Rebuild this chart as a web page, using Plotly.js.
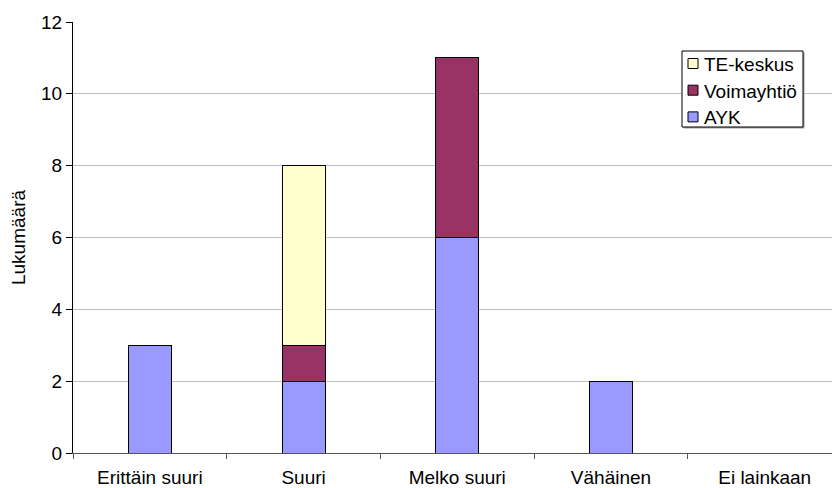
<!DOCTYPE html>
<html>
<head>
<meta charset="utf-8">
<script src="https://cdn.plot.ly/plotly-3.0.1.min.js"></script>
<style>html,body{margin:0;padding:0;background:#fff;overflow:hidden;}#chart{width:832px;height:488px;}</style>
</head>
<body>
<div id="chart"></div>
<script>
const categories = ['Erittäin suuri', 'Suuri', 'Melko suuri', 'Vähäinen', 'Ei lainkaan'];
const aykValues = [3, 2, 6, 2, 0];
const voimayhtioValues = [0, 1, 5, 0, 0];
const teKeskusValues = [0, 5, 0, 0, 0];
const yTickValues = [0, 2, 4, 6, 8, 10, 12];

const FONT = 'Liberation Sans, Arial, sans-serif';
const FS = 19;
const lineStyle = {color: '#000000', width: 1};

const traces = [
  {type: 'bar', name: 'AYK', x: categories, y: aykValues, marker: {color: '#9999FF', line: lineStyle}},
  {type: 'bar', name: 'Voimayhtiö', x: categories, y: voimayhtioValues, marker: {color: '#993366', line: lineStyle}},
  {type: 'bar', name: 'TE-keskus', x: categories, y: teKeskusValues, marker: {color: '#FFFFCC', line: lineStyle}}
];

// plot area in pixels
const M = {l: 73, r: 0, t: 22, b: 35};
const W = 832, H = 488;
const pw = W - M.l - M.r, ph = H - M.t - M.b;
const px2x = p => (p - M.l) / pw;
const py2y = p => (H - M.b - p) / ph;

// custom legend (Excel style): box, small squares, labels
const legendOrder = [2, 1, 0];
const shapes = [];
const annotations = [];
shapes.push({type: 'rect', xref: 'paper', yref: 'paper', x0: px2x(683.5), x1: px2x(804.5), y0: py2y(52.5), y1: py2y(128.5),
  line: {width: 0}, fillcolor: '#a0a0a0', layer: 'above'});
shapes.push({type: 'rect', xref: 'paper', yref: 'paper', x0: px2x(682), x1: px2x(803), y0: py2y(51), y1: py2y(127),
  line: {color: '#000', width: 1}, fillcolor: '#ffffff', layer: 'above'});
legendOrder.forEach((ti, k) => {
  const cy = 63.5 + k * 26.7;
  shapes.push({type: 'rect', xref: 'paper', yref: 'paper', x0: px2x(688), x1: px2x(698), y0: py2y(cy - 5), y1: py2y(cy + 5),
    line: {color: '#000', width: 1}, fillcolor: traces[ti].marker.color, layer: 'above'});
  annotations.push({xref: 'paper', yref: 'paper', x: px2x(702), y: py2y(cy + 1), xanchor: 'left', yanchor: 'middle',
    text: traces[ti].name, showarrow: false, font: {family: FONT, size: FS, color: '#000'}});
});

const layout = {
  width: W, height: H,
  margin: M,
  paper_bgcolor: '#ffffff', plot_bgcolor: '#ffffff',
  barmode: 'stack', bargap: 0.72,
  font: {family: FONT, size: FS, color: '#000'},
  xaxis: {
    type: 'category', range: [-0.5, 4.438],
    showline: true, linecolor: '#555555', linewidth: 1,
    ticks: 'outside', tickson: 'boundaries', ticklen: 5, tickcolor: '#555555',
    ticklabelstandoff: 7,
    tickfont: {family: FONT, size: FS, color: '#000'},
    showgrid: false, zeroline: false, fixedrange: true
  },
  yaxis: {
    range: [0, 12], tickvals: yTickValues, ticktext: yTickValues.map(String),
    showline: true, linecolor: '#000000', linewidth: 1,
    ticks: 'outside', ticklen: 6, tickcolor: '#000',
    tickfont: {family: FONT, size: FS, color: '#000'},
    showgrid: true, gridcolor: '#c0c0c0', gridwidth: 1, zeroline: false,
    title: {text: 'Lukumäärä', font: {family: FONT, size: FS, color: '#000'}, standoff: 10},
    fixedrange: true
  },
  showlegend: false,
  shapes: shapes,
  annotations: annotations
};

Plotly.newPlot('chart', traces, layout, {displayModeBar: false, staticPlot: true});
</script>
</body>
</html>
